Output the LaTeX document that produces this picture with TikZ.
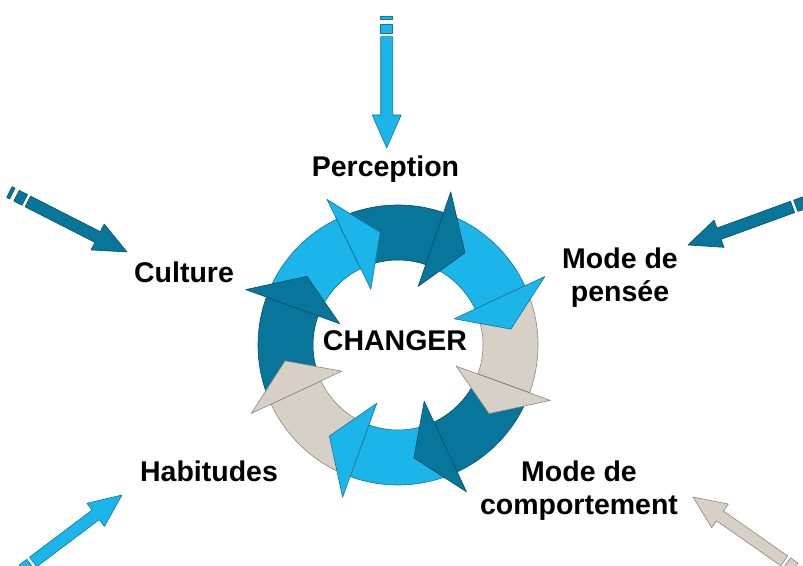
\documentclass[tikz,border=0pt]{standalone}
\usepackage{fontspec}
\setmainfont{Liberation Sans}
\usetikzlibrary{positioning}

\definecolor{cycsky}{RGB}{28,181,234}
\definecolor{cycteal}{RGB}{8,118,155}
\definecolor{cycsand}{RGB}{214,208,199}

\tikzset{
  band/.style={fill=#1, draw=#1!65!black, line width=0.6pt, line join=round},
  lbl/.style={font=\fontsize{28.5}{33}\selectfont\bfseries, align=center, anchor=base, inner sep=0pt},
  pics/feed/.style={code={
    \draw[band=#1] (-132,-6) rectangle (-128.7,6);
    \draw[band=#1] (-124,-6) rectangle (-114.7,6);
    \draw[band=#1] (-111.3,-6) -- (-33,-6) -- (-33,-14.5) -- (0,0) -- (-33,14.5) -- (-33,6) -- (-111.3,6) -- cycle;
  }}
}

\begin{document}
\begin{tikzpicture}[x=1pt,y=1pt]
  \useasboundingbox (0,0) rectangle (803,565);
  \clip (0,0) rectangle (803,565);

  % ring of eight arrows
  \begin{scope}[shift={(398,220)}]
    \foreach \a/\b/\c in {205/160/cycteal, 160/116/cycsky, 116/71/cycteal, 71/25/cycsky,
                          25/-20/cycsand, -20/-65/cycteal, -65/-110/cycsky, -110/-155/cycsand}
      \draw[band=\c] (\a:140) arc[start angle=\a, end angle=\b, radius=140]
        -- (\b:85) arc[start angle=\b, end angle=\a, radius=85] -- cycle;
    \foreach \b/\c in {160/cycteal, 116/cycsky, 71/cycteal, 25/cycsky,
                       -20/cycsand, -65/cycteal, -110/cycsky, -155/cycsand}
      \draw[band=\c] (\b:62) -- (\b:162) -- (\b-17:114) -- cycle;
  \end{scope}

  % incoming arrows
  \coordinate (perc-tip) at (386.7,417);
  \coordinate (cult-tip) at (127,313);
  \coordinate (pens-tip) at (688,320);
  \coordinate (habi-tip) at (122,70);
  \coordinate (comp-tip) at (693,68);
  \pic[rotate=-90] at (perc-tip) {feed=cycsky};
  \pic[rotate=-27] at (cult-tip) {feed=cycteal};
  \pic[rotate=200] at (pens-tip) {feed=cycteal};
  \pic[rotate=37]  at (habi-tip) {feed=cycsky};
  \pic[rotate=145] at (comp-tip) {feed=cycsand};

  % labels
  \node[lbl] (changer)    at (395,214) {CHANGER};
  \node[lbl] (perception) at (385.5,388) {Perception};
  \node[lbl] (culture)    at (184,282) {Culture};
  \node[lbl] (pensee)     at (620,263) {Mode de\\pensée};
  \node[lbl] (habitudes)  at (209,84) {Habitudes};
  \node[lbl] (comport)    at (579,51) {Mode de\\comportement};
\end{tikzpicture}
\end{document}
